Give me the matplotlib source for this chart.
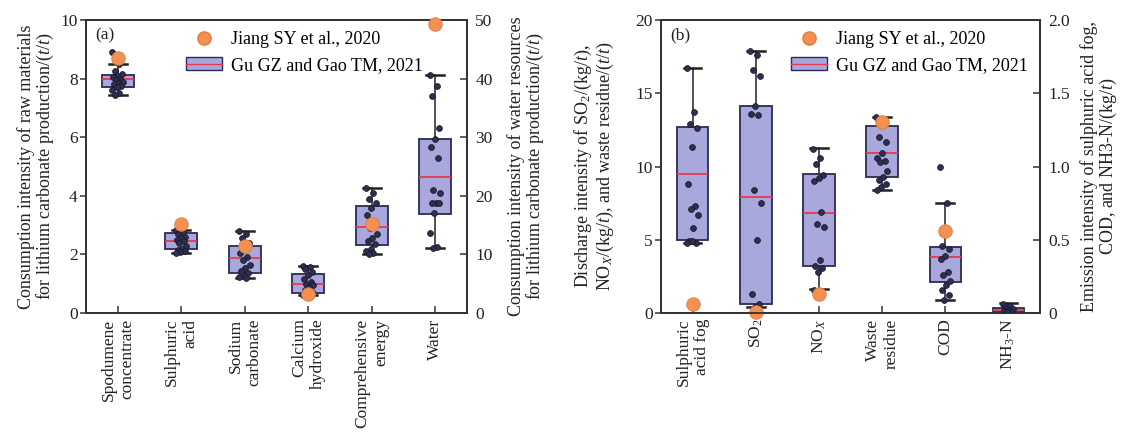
import numpy as np
import matplotlib
matplotlib.use("Agg")
import matplotlib.pyplot as plt
from matplotlib.patches import Patch
from matplotlib.lines import Line2D
from matplotlib.ticker import FuncFormatter

plt.rcParams['font.family'] = ['Liberation Serif', 'DejaVu Serif']
plt.rcParams['mathtext.fontset'] = 'custom'
plt.rcParams['mathtext.rm'] = 'Liberation Serif'
plt.rcParams['mathtext.it'] = 'Liberation Serif:italic'

# ---------------- data: panel (a) ----------------
cats_a = ["Spodumene\nconcentrate", "Sulphuric\nacid", "Sodium\ncarbonate",
          "Calcium\nhydroxide", "Comprehensive\nenergy", "Water"]
gu_a = [
    [8.92, 8.5, 8.25, 8.15, 8.1, 8.05, 8.0, 7.95, 7.9, 7.85, 7.8, 7.75, 7.7, 7.6, 7.5, 7.45],
    [2.85, 2.75, 2.7, 2.6, 2.55, 2.5, 2.45, 2.4, 2.3, 2.2, 2.15, 2.1, 2.07, 2.04],
    [2.8, 2.7, 2.55, 2.4, 2.2, 2.05, 1.9, 1.8, 1.65, 1.55, 1.45, 1.35, 1.28, 1.22, 1.19],
    [1.62, 1.58, 1.5, 1.4, 1.3, 1.15, 1.05, 1.0, 0.95, 0.85, 0.8, 0.72, 0.68, 0.62],
    [4.27, 4.1, 3.9, 3.75, 3.6, 3.35, 3.1, 2.9, 2.7, 2.55, 2.45, 2.35, 2.2, 2.1, 2.05, 2.02],
    [40.7, 38.8, 37.0, 31.6, 29.7, 28.3, 26.5, 21.0, 20.5, 18.8, 18.8, 18.7, 17.0, 13.7, 11.3, 11.05],
]
q1_a = [7.73, 2.18, 1.38, 0.68, 2.32, 16.9]
med_a = [7.98, 2.47, 1.89, 1.00, 2.95, 23.24]
q3_a = [8.11, 2.72, 2.30, 1.34, 3.66, 29.76]
lo_a = [7.45, 2.04, 1.19, 0.62, 2.02, 11.05]
hi_a = [8.50, 2.85, 2.81, 1.62, 4.27, 40.7]
right_a = [False, False, False, False, False, True]
jiang_a = [8.7, 3.04, 2.27, 0.66, 3.04, 49.3]

# ---------------- data: panel (b) ----------------
cats_b = ["Sulphuric\nacid fog", "SO$_2$", "NO$_X$", "Waste\nresidue", "COD", "NH$_3$-N"]
gu_b = [
    [1.67, 1.37, 1.29, 1.26, 1.13, 0.88, 0.73, 0.71, 0.67, 0.58, 0.49, 0.48, 0.49, 0.48],
    [17.9, 17.6, 16.6, 16.2, 14.1, 13.6, 13.5, 8.4, 7.5, 5.0, 1.3, 0.6, 0.4],
    [11.2, 10.6, 10.2, 9.4, 9.2, 9.0, 6.9, 6.1, 5.9, 3.6, 3.2, 3.1, 2.8, 1.6],
    [13.4, 13.0, 12.0, 11.7, 10.9, 10.6, 10.4, 10.3, 9.7, 9.3, 9.1, 8.8, 8.6, 8.4],
    [1.0, 0.75, 0.46, 0.44, 0.39, 0.37, 0.28, 0.26, 0.22, 0.19, 0.16, 0.12, 0.09],
    [0.06, 0.045, 0.035, 0.03, 0.02, 0.015, 0.01, 0.005],
]
q1_b = [0.50, 0.61, 3.24, 9.30, 0.215, 0.005]
med_b = [0.946, 7.91, 6.80, 10.90, 0.379, 0.02]
q3_b = [1.27, 14.1, 9.52, 12.74, 0.449, 0.034]
lo_b = [0.48, 0.40, 1.63, 8.39, 0.09, 0.0]
hi_b = [1.67, 17.9, 11.27, 13.4, 0.753, 0.065]
right_b = [True, False, False, False, True, True]
jiang_b = [0.061, 0.07, 1.32, 13.04, 0.56, None]

# ---------------- style ----------------
BOX_FACE = '#a9a8dc'
BOX_EDGE = '#2b2b55'
MED = '#e8394f'
DOT = '#2e2e4e'
ORANGE = '#f39152'
SPINE = '#333333'
FS = 12.5

fig = plt.figure(figsize=(11.21, 4.36), dpi=100)
ax_a = fig.add_axes([0.0767, 0.2821, 0.3399, 0.672])
ax_b = fig.add_axes([0.5897, 0.2821, 0.3381, 0.672])


def jitter(n):
    k = np.arange(n)
    return 0.09 * (((k * 0.618034) % 1.0) - 0.5) * 2


def draw_panel(ax, cats, gu, q1, med, q3, lo, hi, right, jiang, ylim_l, ylim_r):
    axr = ax.twinx()
    for i in range(len(cats)):
        tgt = axr if right[i] else ax
        pos = i + 1
        stats = [dict(q1=q1[i], med=med[i], q3=q3[i], whislo=lo[i], whishi=hi[i], fliers=[])]
        tgt.bxp(stats, positions=[pos], widths=0.5, patch_artist=True, showfliers=False,
                capwidths=0.28,
                boxprops=dict(facecolor=BOX_FACE, edgecolor=BOX_EDGE, linewidth=1.3),
                medianprops=dict(color=MED, linewidth=1.3),
                whiskerprops=dict(color=SPINE, linewidth=1.2),
                capprops=dict(color='#222222', linewidth=1.8), zorder=2)
        vals = np.asarray(gu[i])
        tgt.scatter(pos + jitter(len(vals)), vals, s=18, color=DOT, edgecolors='#15152a',
                    linewidths=0.5, zorder=3)
        if jiang[i] is not None:
            tgt.scatter([pos], [jiang[i]], s=95, color=ORANGE, edgecolors='#e47a3c',
                        linewidths=0.6, zorder=4, clip_on=False)
    for a in (ax, axr):
        a.set_xlim(0.5, 6.5)
        for sp in a.spines.values():
            sp.set_color(SPINE)
            sp.set_linewidth(1.3)
    ax.set_ylim(*ylim_l)
    axr.set_ylim(*ylim_r)
    ax.set_xticks(range(1, len(cats) + 1))
    ax.set_xticklabels(cats, rotation=90, fontsize=FS, ha='center', va='top',
                       multialignment='right', color='#222222')
    ax.tick_params(axis='x', direction='in', length=5, width=1.1, color=SPINE, pad=4)
    ax.tick_params(axis='y', direction='out', length=4, width=1.1, color=SPINE,
                   labelsize=FS, labelcolor='#222222', pad=2)
    axr.tick_params(axis='y', direction='in', length=5, width=1.1, color=SPINE,
                    labelsize=FS, labelcolor='#222222', pad=6)
    return axr


axr_a = draw_panel(ax_a, cats_a, gu_a, q1_a, med_a, q3_a, lo_a, hi_a, right_a, jiang_a,
                   (0, 10), (0, 50))
axr_b = draw_panel(ax_b, cats_b, gu_b, q1_b, med_b, q3_b, lo_b, hi_b, right_b, jiang_b,
                   (0, 20), (0, 2.0))

ax_a.set_yticks([0, 2, 4, 6, 8, 10])
axr_a.set_yticks([0, 10, 20, 30, 40, 50])
ax_b.set_yticks([0, 5, 10, 15, 20])
axr_b.set_yticks([0, 0.5, 1.0, 1.5, 2.0])
axr_b.yaxis.set_major_formatter(FuncFormatter(lambda v, p: '0' if v == 0 else f'{v:.1f}'))

LFS = 13
ax_a.set_ylabel("Consumption intensity of raw materials\nfor lithium carbonate production/($t$/$t$)",
                fontsize=LFS, linespacing=1.0, color='#222222')
ax_a.yaxis.set_label_coords(-0.078, 0.5)
axr_a.set_ylabel("Consumption intensity of water resources\nfor lithium carbonate production/($t$/$t$)",
                 fontsize=LFS, linespacing=1.0, color='#222222')
axr_a.yaxis.set_label_coords(1.105, 0.5)
ax_b.set_ylabel("Discharge intensity of SO$_2$/(kg/$t$),\nNO$_X$/(kg/$t$), and waste residue/($t$/$t$)",
                fontsize=LFS, linespacing=1.0, color='#222222')
ax_b.yaxis.set_label_coords(-0.12, 0.5)
axr_b.set_ylabel("Emission intensity of sulphuric acid fog,\nCOD, and NH3-N/(kg/$t$)",
                 fontsize=LFS, linespacing=1.0, color='#222222')
axr_b.yaxis.set_label_coords(1.105, 0.5)

for ax, lab in ((ax_a, "(a)"), (ax_b, "(b)")):
    ax.text(0.025, 0.975, lab, transform=ax.transAxes, ha='left', va='top', fontsize=FS,
            color='#222222')

handles = [Line2D([], [], marker='o', linestyle='none', markersize=9.5,
                  markerfacecolor=ORANGE, markeredgecolor='#e47a3c'),
           (Patch(facecolor=BOX_FACE, edgecolor=BOX_EDGE, linewidth=1.0),
            Line2D([], [], color=MED, linewidth=1.0))]
labels = ["Jiang SY et al., 2020", "Gu GZ and Gao TM, 2021"]
axr_a.legend(handles, labels, loc='upper left', bbox_to_anchor=(0.235, 1.0), frameon=False,
             fontsize=LFS, handlelength=2.0, handletextpad=0.5, labelspacing=0.5,
             borderaxespad=0.2)
axr_b.legend(handles, labels, loc='upper left', bbox_to_anchor=(0.315, 1.0), frameon=False,
             fontsize=LFS, handlelength=2.0, handletextpad=0.5, labelspacing=0.5,
             borderaxespad=0.2)

fig.savefig("out.png", dpi=100)
